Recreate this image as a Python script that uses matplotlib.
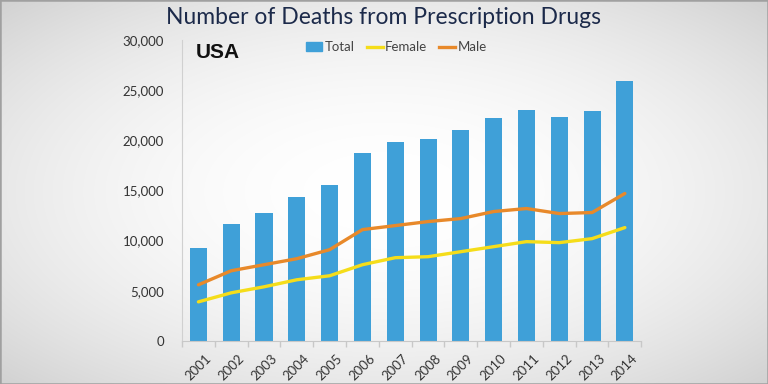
import matplotlib
matplotlib.use("Agg")
import matplotlib.pyplot as plt
import numpy as np
from matplotlib.lines import Line2D
from matplotlib.patches import Patch, Rectangle

years = ["2001", "2002", "2003", "2004", "2005", "2006", "2007",
         "2008", "2009", "2010", "2011", "2012", "2013", "2014"]
total = [9300, 11700, 12800, 14300, 15500, 18700, 19800,
         20100, 21000, 22200, 23000, 22300, 22900, 25900]
male = [5600, 7000, 7600, 8200, 9100, 11100, 11500,
        11900, 12200, 12900, 13200, 12700, 12800, 14700]
female = [3900, 4800, 5400, 6100, 6500, 7600, 8300,
          8400, 8900, 9400, 9900, 9800, 10200, 11300]
yticks = [0, 5000, 10000, 15000, 20000, 25000, 30000]

plt.rcParams['font.family'] = ['Lato', 'DejaVu Sans']

fig = plt.figure(figsize=(7.68, 3.84), dpi=100)

# background gradient
bg = fig.add_axes([0, 0, 1, 1], zorder=-10)
yy, xx = np.mgrid[-1:1:200j, -1:1:400j]
r = np.sqrt((xx * 0.9) ** 2 + (yy * 0.9) ** 2)
grad = np.clip(1 - 0.11 * r ** 2, 0, 1)
bg.imshow(np.dstack([grad, grad, grad]), extent=[0, 1, 0, 1],
          aspect='auto', interpolation='bicubic')
bg.set_xlim(0, 1); bg.set_ylim(0, 1)
bg.axis('off')
bg.add_patch(Rectangle((0, 0), 1, 1, transform=bg.transAxes, fill=False,
                       edgecolor='#a0a0a0', linewidth=1.8))

ax = fig.add_axes([0.237, 0.112, 0.598, 0.784])
ax.patch.set_alpha(0)
x = np.arange(len(years))
ax.bar(x, total, width=0.52, color='#3fa0d8', zorder=2, label='Total')
ax.plot(x, female, color='#f5dd1a', lw=2.4, zorder=3, label='Female',
        solid_capstyle='round')
ax.plot(x, male, color='#e8892a', lw=2.4, zorder=4, label='Male',
        solid_capstyle='round')

ax.set_xlim(-0.5, len(years) - 0.5)
ax.set_ylim(0, 30000)
ax.set_yticks(yticks)
ax.set_yticklabels([f"{v:,}" for v in yticks], fontsize=9.5, color='#333333')
ax.tick_params(axis='y', length=0, pad=13)
ax.set_xticks(x)
ax.set_xticklabels(years, rotation=45, fontsize=9.5, color='#333333',
                   ha='center', va='top', rotation_mode='default')
ax.tick_params(axis='x', length=0, pad=8)
ax.set_xticks(np.arange(-0.5, len(years), 1), minor=True)
ax.tick_params(axis='x', which='minor', length=4, color='#c8c8c8', width=1)

for s in ['top', 'right']:
    ax.spines[s].set_visible(False)
ax.spines['left'].set_color('#d0d0d0')
ax.spines['bottom'].set_color('#c8c8c8')

ax.text(0.03, 0.99, "USA", transform=ax.transAxes, fontsize=15,
        fontweight='bold', family=['Liberation Sans', 'DejaVu Sans'],
        color='#111111', va='top', ha='left')

handles = [Patch(color='#3fa0d8'),
           Line2D([0], [0], color='#f5dd1a', lw=2.4),
           Line2D([0], [0], color='#e8892a', lw=2.4)]
ax.legend(handles, ['Total', 'Female', 'Male'], loc='upper left',
          bbox_to_anchor=(0.245, 1.035), ncol=3, frameon=False, fontsize=9.5,
          handlelength=1.2, handletextpad=0.2, columnspacing=0.9,
          labelcolor='#444444')

fig.text(0.5, 0.955, "Number of Deaths from Prescription Drugs", ha='center',
         va='center', fontsize=16.5, color='#1c2a4a')

fig.savefig("out.png", dpi=100)
